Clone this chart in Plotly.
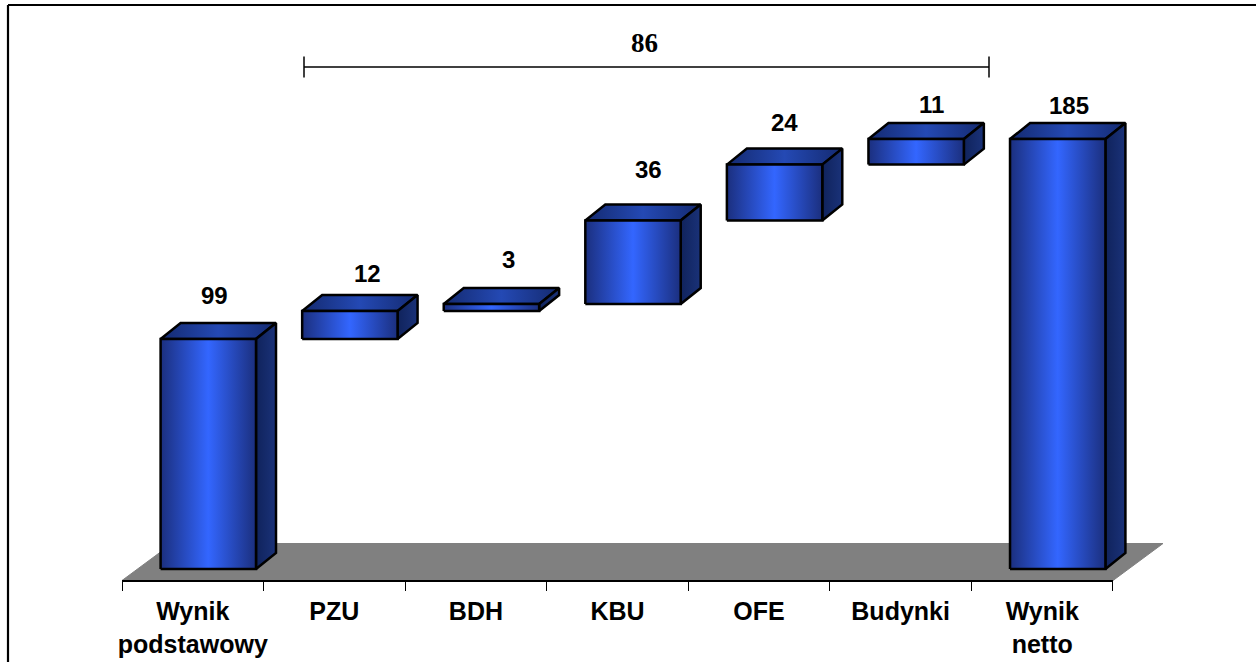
import plotly.graph_objects as go

# ---- data ----
categories = ["Wynik<br>podstawowy", "PZU", "BDH", "KBU", "OFE", "Budynki", "Wynik<br>netto"]
bar_bases = [0, 99, 111, 114, 150, 174, 0]
bar_values = [99, 12, 3, 36, 24, 11, 185]
bracket_total = [86]

# ---- layout constants (pixels of the 1256x662 frame) ----
W, H = 1256, 662
SLOT = 141.57
X0_PX = 192.8
Y0_PX = 569.0
PX_PER_UNIT = 2.324
AXIS_PX = 580.5
BACK_PX = 543.5


def xu(px):
    return px / SLOT


def yu(px):
    return px / PX_PER_UNIT


x_range = [(0 - X0_PX) / SLOT, (W - X0_PX) / SLOT]
y_range = [(Y0_PX - H) / PX_PER_UNIT, Y0_PX / PX_PER_UNIT]

bar_shift = xu(15.5)
bar_half = xu(47.7)
depth_x = xu(20)
depth_y = yu(16)
floor_front = (Y0_PX - AXIS_PX) / PX_PER_UNIT
floor_back = (Y0_PX - BACK_PX) / PX_PER_UNIT
floor_dx = xu(50)

label_dx = [6, 18, 17, 15, 10, 15, 11]
label_dy = [43, 38, 45, 51, 42, 35, 34]

FRONT = [[0, "#1b2f7e"], [0.5, "#3366ff"], [1, "#1b2f7e"]]
TOP = [[0, "#142a70"], [0.5, "#2449b4"], [1, "#142a70"]]
SIDE = [[0, "#10235c"], [1, "#1a3279"]]


def face(xs, ys, scale):
    return go.Scatter(
        x=xs + xs[:1], y=ys + ys[:1], mode="lines", fill="toself",
        fillgradient=dict(type="horizontal", colorscale=scale),
        line=dict(color="#000000", width=2.5), hoverinfo="skip", showlegend=False,
    )


fig = go.Figure()

# floor
left, right = -0.5, 6.5
fig.add_trace(go.Scatter(
    x=[left, right, right + floor_dx, left + floor_dx, left],
    y=[floor_front, floor_front, floor_back, floor_back, floor_front],
    mode="lines", fill="toself", fillcolor="#808080",
    line=dict(color="#808080", width=1), hoverinfo="skip", showlegend=False,
))

# bars
annotations = []
for i, (base, val) in enumerate(zip(bar_bases, bar_values)):
    xc = i + bar_shift
    x1, x2 = xc - bar_half, xc + bar_half
    top = base + val
    fig.add_trace(face([x1, x2, x2 + depth_x, x1 + depth_x],
                       [top, top, top + depth_y, top + depth_y], TOP))
    fig.add_trace(face([x2, x2 + depth_x, x2 + depth_x, x2],
                       [base, base + depth_y, top + depth_y, top], SIDE))
    fig.add_trace(face([x1, x2, x2, x1], [base, base, top, top], FRONT))
    annotations.append(dict(
        x=xc, y=top, xref="x", yref="y", text=f"<b>{val}</b>", showarrow=False,
        xanchor="center", yanchor="middle", xshift=label_dx[i], yshift=label_dy[i],
        font=dict(family="Liberation Sans", size=24, color="#000000"),
    ))

# bracket
bracket_y = (Y0_PX - 67) / PX_PER_UNIT
bracket_x = [(304 - X0_PX) / SLOT, (989 - X0_PX) / SLOT]
fig.add_trace(go.Scatter(
    x=bracket_x, y=[bracket_y, bracket_y], mode="lines+markers",
    line=dict(color="#000000", width=1.5),
    marker=dict(symbol="line-ns", size=15, line=dict(color="#000000", width=1.5)),
    hoverinfo="skip", showlegend=False,
))
annotations.append(dict(
    x=sum(bracket_x) / 2, y=bracket_y, xref="x", yref="y",
    text=f"<b>{bracket_total[0]}</b>", showarrow=False,
    xanchor="center", yanchor="middle", xshift=-2.5, yshift=24,
    font=dict(family="Liberation Serif", size=27, color="#000000"),
))

# carrier for the visible category axis
fig.add_trace(go.Scatter(
    x=list(range(len(categories))), y=[0] * len(categories), xaxis="x2", yaxis="y",
    mode="markers", marker=dict(opacity=0), hoverinfo="skip", showlegend=False,
))

fig.update_layout(
    width=W, height=H, margin=dict(l=0, r=0, t=0, b=0, autoexpand=False),
    paper_bgcolor="#ffffff", plot_bgcolor="rgba(0,0,0,0)",
    showlegend=False, annotations=annotations,
    xaxis=dict(range=x_range, domain=[0, 1], visible=False, fixedrange=True),
    yaxis=dict(range=y_range, domain=[0, 1], visible=False, fixedrange=True),
    xaxis2=dict(
        range=[left, right], domain=[122 / W, (122 + 7 * SLOT) / W],
        anchor="free", position=(H - AXIS_PX) / H, side="bottom", automargin=False,
        tickmode="array", tickvals=list(range(len(categories))),
        ticktext=["<br>".join(f"<b>{part}</b>" for part in c.split("<br>")) for c in categories],
        ticks="", showgrid=False, zeroline=False,
        showline=True, linecolor="#000000", linewidth=1.5,
        tickfont=dict(family="Liberation Sans", size=25, color="#000000"),
        ticklabelstandoff=9,
        minor=dict(tickvals=[k - 0.5 for k in range(len(categories) + 1)],
                   ticks="outside", ticklen=10, tickwidth=1.2, tickcolor="#000000",
                   showgrid=False),
        fixedrange=True,
    ),
    shapes=[
        dict(type="line", xref="paper", yref="paper", x0=8 / W, x1=1, y0=1 - 5 / H, y1=1 - 5 / H,
             line=dict(color="#000000", width=2.2)),
        dict(type="line", xref="paper", yref="paper", x0=8 / W, x1=8 / W, y0=1 - 5 / H, y1=0,
             line=dict(color="#000000", width=2.2)),
    ],
)

fig.write_html("out.html", post_script="document.body.style.margin='0';",
               config={"displayModeBar": False})
